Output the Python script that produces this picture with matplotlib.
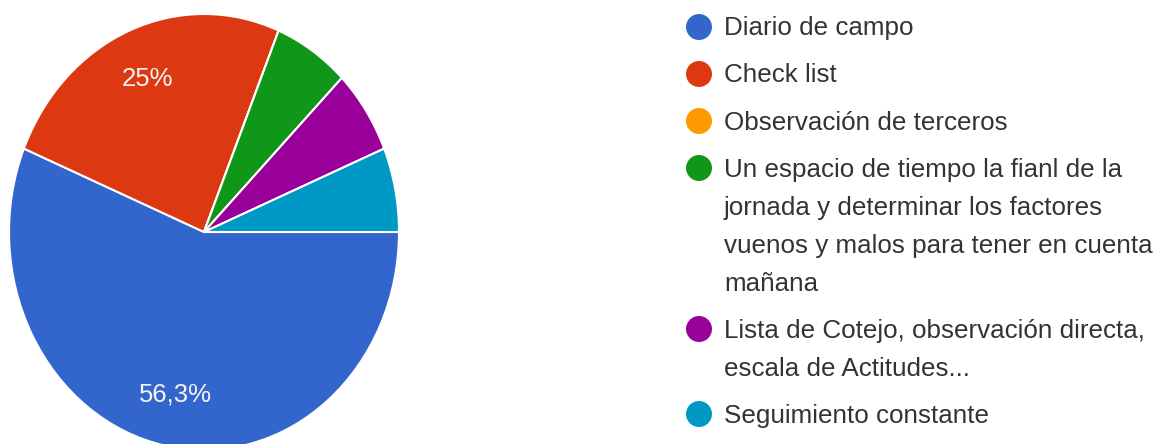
import math
import matplotlib
matplotlib.use('Agg')
import matplotlib.pyplot as plt

# answers (counts out of 16)
labels = ['Diario de campo', 'Check list', 'Observación de terceros',
          'Un espacio de tiempo la fianl de la\njornada y determinar los factores\nvuenos y malos para tener en cuenta\nmañana',
          'Lista de Cotejo, observación directa,\nescala de Actitudes...',
          'Seguimiento constante']
counts = [9, 4, 0, 1, 1, 1]
colors = ['#3366cc', '#dc3912', '#ff9900', '#109618', '#990099', '#0099c6']

plt.rcParams['font.family'] = ['Liberation Sans', 'DejaVu Sans']

W, H = 1156, 444
fig = plt.figure(figsize=(W / 100, H / 100), dpi=100)


def pct_label(p):
    if p < 10:
        return ''
    r = math.floor(p * 10 + 0.5) / 10
    if abs(r - round(r)) < 1e-9:
        return '%d%%' % round(r)
    return ('%.1f%%' % r).replace('.', ',')


# pie is slightly stretched vertically in the reference
cx, cy, rx, ry = 204, 232, 195, 218
ax = fig.add_axes([(cx - rx) / W, (H - cy - ry) / H, 2 * rx / W, 2 * ry / H])
wedges, texts, autotexts = ax.pie(counts, colors=colors, startangle=0, counterclock=False,
                                  autopct=pct_label, pctdistance=0.76,
                                  wedgeprops=dict(edgecolor='white', linewidth=1.5),
                                  textprops=dict(color='#f4f4f4', fontsize=18.5))
ax.set_aspect('auto')
ax.set_xlim(-1, 1)
ax.set_ylim(-1, 1)

# legend drawn in pixel coordinates
lg = fig.add_axes([0, 0, 1, 1])
lg.set_xlim(0, W)
lg.set_ylim(H, 0)
lg.axis('off')
lg.patch.set_alpha(0)

y = 27
pitch = 38
for lab, col in zip(labels, colors):
    lines = lab.split('\n')
    lg.scatter([699], [y], s=350, color=col, edgecolors='none')
    for i, line in enumerate(lines):
        lg.text(724, y + i * pitch + 8.5, line, fontsize=18.7, color='#333333', va='baseline', ha='left')
    y += (len(lines) - 1) * pitch + 47

fig.savefig('out.png', dpi=100)
